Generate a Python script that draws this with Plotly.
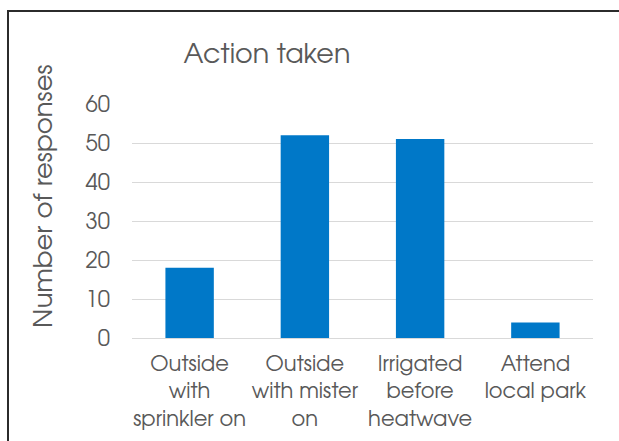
import plotly.graph_objects as go

categories = ["Outside<br>with<br>sprinkler on", "Outside<br>with mister<br>on",
              "Irrigated<br>before<br>heatwave", "Attend<br>local park"]
responses = [18, 52, 51, 4]
y_ticks = [0, 10, 20, 30, 40, 50, 60]

W, H = 619, 441
L, R, T, B = 132, 26, 104, 103
pw, ph = W - L - R, H - T - B

def px_x(x):
    return (x - L) / pw

def px_y(y):
    return (H - B - y) / ph

FONT = "'TeX Gyre Adventor', Questrial, Lato, sans-serif"
TXT = "#595959"

fig = go.Figure(go.Bar(x=categories, y=responses, marker_color="#0078C8",
                       marker_line_width=0, width=0.42))

fig.update_layout(
    width=W, height=H,
    margin=dict(l=L, r=R, t=T, b=B),
    paper_bgcolor="white", plot_bgcolor="white",
    font=dict(family=FONT, color=TXT),
    showlegend=False,
    title=dict(text="Action taken", x=px_x(267), xref="paper", xanchor="center",
               y=1 - 54 / H, yref="container", yanchor="middle",
               font=dict(size=27, color=TXT, family=FONT)),
    xaxis=dict(showgrid=False, showline=False, ticks="", tickfont=dict(size=21, color=TXT),
               zeroline=False, ticklabelstandoff=11),
    yaxis=dict(range=[0, 60], tickvals=y_ticks, showgrid=True, gridcolor="#d9d9d9",
               gridwidth=1, zeroline=True, zerolinecolor="#d9d9d9", zerolinewidth=1,
               showline=False, ticks="", tickfont=dict(size=22, color=TXT),
               ticklabelstandoff=21),
    annotations=[dict(text="Number of responses", textangle=-90, showarrow=False,
                      xref="paper", yref="paper", x=px_x(45), y=px_y(196),
                      xanchor="center", yanchor="middle",
                      font=dict(size=26, color=TXT, family=FONT))],
    shapes=[dict(type="rect", xref="paper", yref="paper",
                 x0=px_x(8), x1=px_x(640), y0=px_y(460), y1=px_y(11),
                 line=dict(color="#2b2b2b", width=2), fillcolor="rgba(0,0,0,0)", layer="above")],
    bargap=0.58,
)

fig.write_html("out.html")
